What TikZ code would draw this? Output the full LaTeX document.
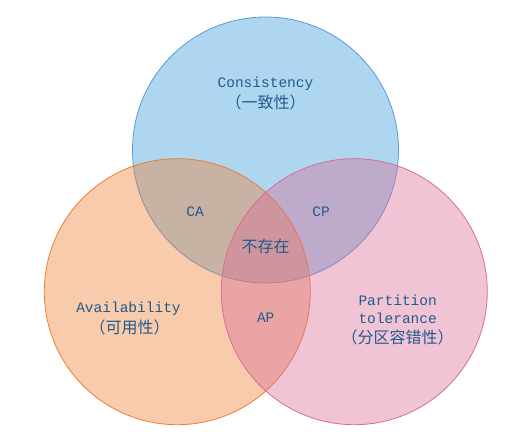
\documentclass[tikz,border=0pt]{standalone}
\usepackage{fontspec}
\setmonofont{Liberation Mono}
\newfontfamily\cjk{Noto Sans CJK SC}
\usepackage{tikz}
\usetikzlibrary{positioning}

\definecolor{cBlue}{RGB}{93,173,226}
\definecolor{cBlueLine}{RGB}{91,155,213}
\definecolor{cOrange}{RGB}{237,125,49}
\definecolor{cPink}{RGB}{217,107,150}
\definecolor{cText}{RGB}{35,90,140}

\begin{document}
\begin{tikzpicture}[
    x=1pt, y=-1pt,
    setcircle/.style={draw, circle, line width=0.8pt, minimum size=266pt,
                      inner sep=0pt},
    lbl/.style={align=center, text=cText, font=\fontsize{14.5}{17}\selectfont\ttfamily,
                inner sep=1pt},
    cjklbl/.style={align=center, text=cText, font=\fontsize{16}{18}\selectfont\cjk,
                   inner sep=1pt}
]
    \useasboundingbox (0,0) rectangle (530,447);

    % --- Sets ---
    \node[setcircle, draw=cBlueLine, fill=cBlue, fill opacity=0.5]
        (consist) at (265.5,150) {};
    \node[setcircle, draw=cOrange, fill=cOrange, fill opacity=0.4]
        (avail) at (177.3,291.7) {};
    \node[setcircle, draw=cPink, fill=cPink, fill opacity=0.4]
        (partit) at (354.3,291.7) {};

    % --- Set labels ---
    \node[lbl] (consistname) at (265.5,84) {Consistency};
    \node[cjklbl] (consistcn) at (265.5,102) {（一致性）};
    \node[lbl] (availname) at (128.5,309) {Availability};
    \node[cjklbl] (availcn) at (129.5,327) {（可用性）};
    \node[lbl, align=center] (partitname) at (397.7,309)
        {Partition\\[1pt]tolerance};
    \node[cjklbl] (partitcn) at (397.7,337) {（分区容错性）};

    % --- Overlaps ---
    \node[lbl] (ca) at (195,212) {CA};
    \node[lbl] (cp) at (321,212) {CP};
    \node[lbl] (ap) at (265.7,318) {AP};
    \node[cjklbl] (none) at (265.7,246) {不存在};
\end{tikzpicture}
\end{document}
